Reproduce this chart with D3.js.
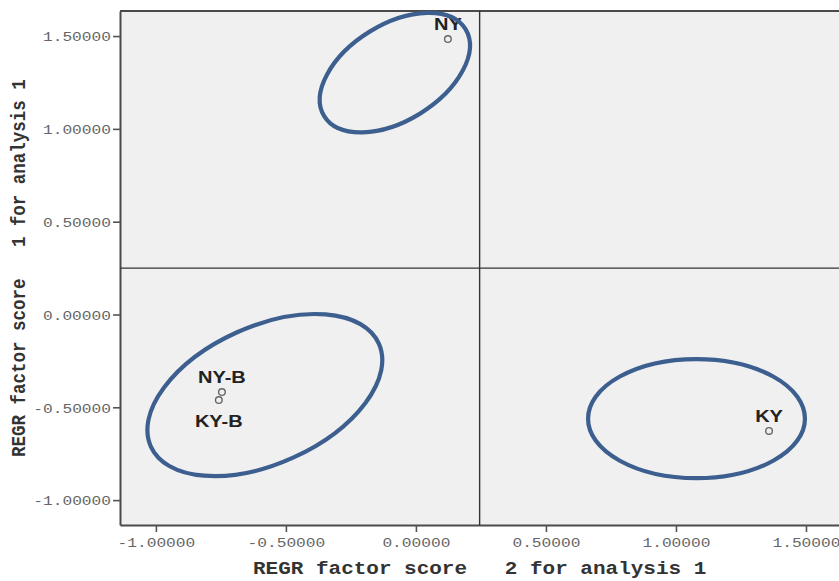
<!DOCTYPE html>
<html>
<head>
<meta charset="utf-8">
<script src="https://cdn.jsdelivr.net/npm/d3@7"></script>
<style>
  html, body { margin: 0; padding: 0; background: #ffffff; }
  svg { display: block; }
</style>
</head>
<body>
<svg id="chart" width="839" height="581"></svg>
<script>
// Factor scores for each group (factor 2 on x, factor 1 on y)
const categories = ["NY", "NY-B", "KY-B", "KY"];
const factor2Scores = [0.123, -0.746, -0.758, 1.358];
const factor1Scores = [1.484, -0.418, -0.461, -0.627];
const labelSide = ["above", "above", "below", "above"];

// Axis ticks and labels
const xTickValues = [-1.0, -0.5, 0.0, 0.5, 1.0, 1.5];
const xTickLabels = ["-1.00000", "-0.50000", "0.00000", "0.50000", "1.00000", "1.50000"];
const yTickValues = [-1.0, -0.5, 0.0, 0.5, 1.0, 1.5];
const yTickLabels = ["-1.00000", "-0.50000", "0.00000", "0.50000", "1.00000", "1.50000"];

// Reference lines dividing the plane into quadrants
const refLineX = [0.245];
const refLineY = [0.25];

// Cluster outlines: centre (data units), semi-axes (x units), tilt in degrees
const clusterNames = ["north", "baseline", "kentucky"];
const clusterCx = [-0.081, -0.581, 1.079];
const clusterCy = [1.303, -0.434, -0.561];
const clusterA = [0.319, 0.481, 0.417];
const clusterB = [0.185, 0.264, 0.229];
const clusterTilt = [31.6, 24.3, 0];

const xTitle = "REGR factor score   2 for analysis 1";
const yTitle = "REGR factor score   1 for analysis 1";

const svg = d3.select("#chart");
const W = 839, H = 581;
const plot = { left: 120, top: 11, right: 839, bottom: 525 };
const stretch = 1.2; // horizontal stretch applied to all lettering

const x = d3.scaleLinear().domain([-1.138, 1.627]).range([plot.left, plot.right]);
const y = d3.scaleLinear().domain([-1.134, 1.635]).range([plot.bottom, plot.top]);
const kx = x(1) - x(0);

// Plot background
svg.append("rect")
  .attr("x", plot.left).attr("y", plot.top)
  .attr("width", plot.right - plot.left).attr("height", plot.bottom - plot.top)
  .attr("fill", "#f0f0f0");

// Axes
const xAxis = d3.axisBottom(x)
  .tickValues(xTickValues)
  .tickFormat((d, i) => xTickLabels[i])
  .tickSize(7).tickSizeOuter(0);
const yAxis = d3.axisLeft(y)
  .tickValues(yTickValues)
  .tickFormat((d, i) => yTickLabels[i])
  .tickSize(7).tickSizeOuter(0);

const gx = svg.append("g").attr("transform", `translate(0,${plot.bottom})`).call(xAxis);
const gy = svg.append("g").attr("transform", `translate(${plot.left},0)`).call(yAxis);

[gx, gy].forEach(g => {
  g.select(".domain").attr("stroke", "#4a4a4a").attr("stroke-width", 2);
  g.selectAll(".tick line").attr("stroke", "#555").attr("stroke-width", 1.6);
  g.selectAll(".tick text")
    .attr("fill", "#666")
    .attr("font-family", "'Liberation Mono', 'DejaVu Sans Mono', monospace")
    .attr("font-size", 13.5);
});
gx.selectAll(".tick text")
  .attr("y", 0).attr("dy", 0)
  .attr("transform", `translate(0,22) scale(${stretch},1)`);
gy.selectAll(".tick text")
  .attr("x", 0).attr("dy", "0.35em")
  .attr("text-anchor", "end")
  .attr("transform", `translate(-9,0) scale(${stretch},1)`);

// Top border
svg.append("line")
  .attr("x1", plot.left).attr("x2", plot.right)
  .attr("y1", plot.top).attr("y2", plot.top)
  .attr("stroke", "#4a4a4a").attr("stroke-width", 2);

// Reference lines
svg.selectAll("line.refx").data(refLineX).join("line")
  .attr("class", "refx")
  .attr("x1", d => x(d)).attr("x2", d => x(d))
  .attr("y1", plot.top).attr("y2", plot.bottom)
  .attr("stroke", "#333").attr("stroke-width", 1.4);
svg.selectAll("line.refy").data(refLineY).join("line")
  .attr("class", "refy")
  .attr("x1", plot.left).attr("x2", plot.right)
  .attr("y1", d => y(d)).attr("y2", d => y(d))
  .attr("stroke", "#333").attr("stroke-width", 1.4);

// Axis titles
const titleFont = "'Liberation Mono', 'DejaVu Sans Mono', monospace";
svg.append("text")
  .attr("transform", `translate(${x(refLineX[0])},574) scale(${stretch},1)`)
  .attr("text-anchor", "middle")
  .attr("font-family", titleFont)
  .attr("font-weight", "bold")
  .attr("font-size", 17.5)
  .attr("fill", "#333")
  .style("white-space", "pre")
  .text(xTitle);
svg.append("text")
  .attr("transform", `translate(25,${y(refLineY[0])}) scale(${stretch},1) rotate(-90)`)
  .attr("text-anchor", "middle")
  .attr("font-family", titleFont)
  .attr("font-weight", "bold")
  .attr("font-size", 17.5)
  .attr("fill", "#333")
  .style("white-space", "pre")
  .text(yTitle);

// Data points
const points = categories.map((c, i) => ({
  name: c, fx: factor2Scores[i], fy: factor1Scores[i], side: labelSide[i]
}));

svg.selectAll("circle.pt").data(points).join("circle")
  .attr("class", "pt")
  .attr("cx", d => x(d.fx)).attr("cy", d => y(d.fy))
  .attr("r", 3.3)
  .attr("fill", "none")
  .attr("stroke", "#666")
  .attr("stroke-width", 1.4);

svg.selectAll("text.lbl").data(points).join("text")
  .attr("class", "lbl")
  .attr("transform", d => `translate(${x(d.fx)},${y(d.fy) + (d.side === "above" ? -9 : 27)}) scale(1.25,1)`)
  .attr("text-anchor", "middle")
  .attr("font-family", "'Liberation Sans', Arial, sans-serif")
  .attr("font-weight", "bold")
  .attr("font-size", 16)
  .attr("fill", "#222")
  .text(d => d.name);

// Cluster outlines
const clusters = clusterNames.map((n, i) => ({
  name: n, cx: clusterCx[i], cy: clusterCy[i], a: clusterA[i], b: clusterB[i], tilt: clusterTilt[i]
}));
svg.selectAll("ellipse.cluster").data(clusters).join("ellipse")
  .attr("class", "cluster")
  .attr("transform", d => `translate(${x(d.cx)},${y(d.cy)}) rotate(${-d.tilt})`)
  .attr("rx", d => d.a * kx)
  .attr("ry", d => d.b * kx)
  .attr("fill", "none")
  .attr("stroke", "#3c5f8f")
  .attr("stroke-width", 4.2);
</script>
</body>
</html>
